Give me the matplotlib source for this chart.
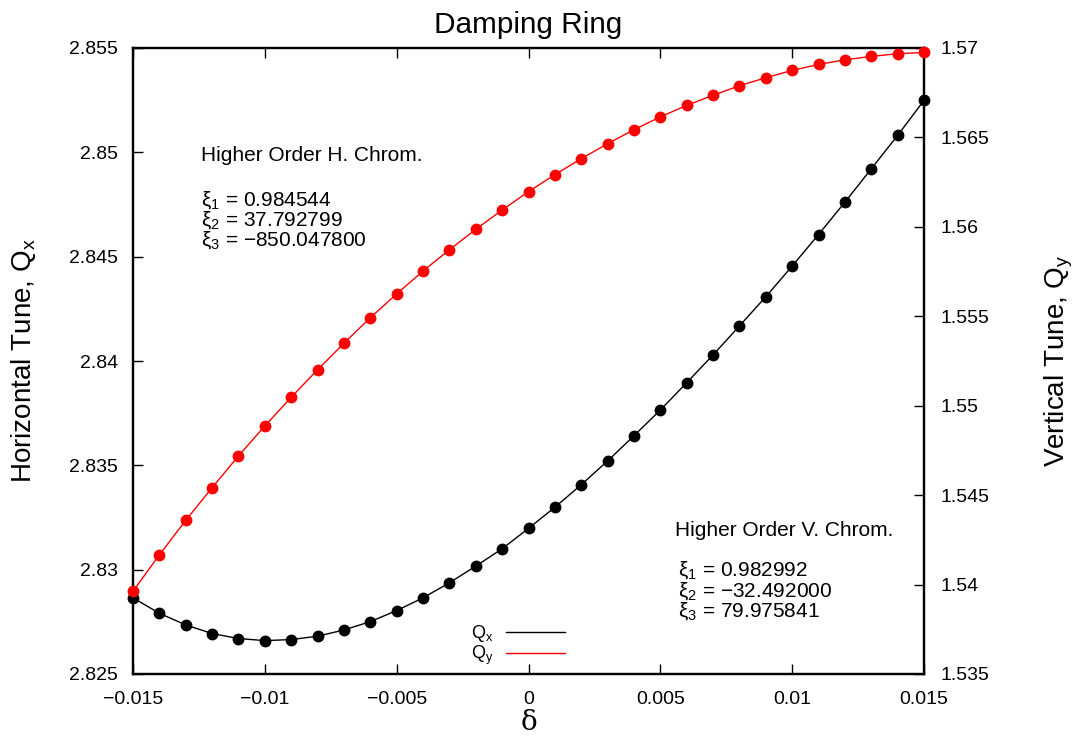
import matplotlib
matplotlib.use("Agg")
import matplotlib.pyplot as plt
import numpy as np

plt.rcParams['font.family'] = ['Liberation Sans', 'DejaVu Sans']
plt.rcParams['mathtext.default'] = 'regular'

delta = [-0.015, -0.014, -0.013, -0.012, -0.011, -0.010, -0.009, -0.008,
         -0.007, -0.006, -0.005, -0.004, -0.003, -0.002, -0.001, 0.0,
         0.001, 0.002, 0.003, 0.004, 0.005, 0.006, 0.007, 0.008,
         0.009, 0.010, 0.011, 0.012, 0.013, 0.014, 0.015]

qx = [2.82865, 2.82791, 2.82735, 2.82694, 2.82670, 2.82660, 2.82665, 2.82681,
      2.82711, 2.82751, 2.82804, 2.82865, 2.82937, 2.83017, 2.83100, 2.83198,
      2.83299, 2.83407, 2.83521, 2.83642, 2.83765, 2.83896, 2.84029, 2.84168,
      2.84308, 2.84455, 2.84606, 2.84761, 2.84921, 2.85081, 2.85249]

qy = [1.53963, 1.54166, 1.54359, 1.54542, 1.54719, 1.54887, 1.55047, 1.55201,
      1.55349, 1.55492, 1.55625, 1.55753, 1.55872, 1.55986, 1.56094, 1.56197,
      1.56292, 1.56381, 1.56465, 1.56543, 1.56615, 1.56679, 1.56736, 1.56789,
      1.56834, 1.56875, 1.56908, 1.56934, 1.56953, 1.56968, 1.56975]

xticks = [-0.015, -0.01, -0.005, 0, 0.005, 0.01, 0.015]
xticklabels = ['\u22120.015', '\u22120.01', '\u22120.005', '0', '0.005', '0.01', '0.015']
y1ticks = [2.825, 2.83, 2.835, 2.84, 2.845, 2.85, 2.855]
y1ticklabels = ['2.825', '2.83', '2.835', '2.84', '2.845', '2.85', '2.855']
y2ticks = [1.535, 1.54, 1.545, 1.55, 1.555, 1.56, 1.565, 1.57]
y2ticklabels = ['1.535', '1.54', '1.545', '1.55', '1.555', '1.56', '1.565', '1.57']

h_title = 'Higher Order H. Chrom.'
h_xi = ['\u03be$_1$ = 0.984544', '\u03be$_2$ = 37.792799', '\u03be$_3$ = \u2212850.047800']
v_title = 'Higher Order V. Chrom.'
v_xi = ['\u03be$_1$ = 0.982992', '\u03be$_2$ = \u221232.492000', '\u03be$_3$ = 79.975841']

fig = plt.figure(figsize=(10.78, 7.40), dpi=100)
ax = fig.add_axes([133/1078, 1-674/740, 791/1078, 626/740])
ax2 = ax.twinx()

ax.plot(delta, qx, color='black', lw=1.0, label='Q$_x$')
ax.plot(delta, qx, 'o', color='black', ms=7.5, clip_on=False, zorder=5)
ax2.plot(delta, qy, color='red', lw=1.0, label='Q$_y$')
ax2.plot(delta, qy, 'o', color='red', ms=7.5, clip_on=False, zorder=5)

ax.set_xlim(-0.015, 0.015)
ax.set_ylim(2.825, 2.855)
ax2.set_ylim(1.535, 1.57)

ax.set_xticks(xticks)
ax.set_xticklabels(xticklabels)
ax.set_yticks(y1ticks)
ax.set_yticklabels(y1ticklabels)
ax2.set_yticks(y2ticks)
ax2.set_yticklabels(y2ticklabels)

ax.tick_params(axis='x', direction='in', length=7, width=1, top=True, labelsize=14, pad=12)
ax.tick_params(axis='y', direction='in', length=7, width=1, right=False, labelsize=14, pad=11)
ax2.tick_params(axis='y', direction='in', length=7, width=1, labelsize=14, pad=12)
for a in (ax, ax2):
    for s in a.spines.values():
        s.set_linewidth(1.6)

ax.set_title('Damping Ring', fontsize=21.4, pad=11)
ax.set_xlabel('\u03b4', fontsize=20, family=['DejaVu Serif'], labelpad=1)
ax.set_ylabel('Horizontal Tune, Q$_x$', fontsize=20, labelpad=22)
ax2.set_ylabel('Vertical Tune, Q$_y$', fontsize=20, labelpad=38)

fs = 15
ax.text(0.0856, 0.820, h_title, transform=ax.transAxes, fontsize=fs, va='baseline')
for yy, s in zip([0.7485, 0.7165, 0.6846], h_xi):
    ax.text(0.0856, yy, s, transform=ax.transAxes, fontsize=fs, va='baseline')

ax.text(0.685, 0.2204, v_title, transform=ax.transAxes, fontsize=fs, va='baseline')
for yy, s in zip([0.1565, 0.1230, 0.0911], v_xi):
    ax.text(0.6885, yy, s, transform=ax.transAxes, fontsize=fs, va='baseline')

h1, l1 = ax.get_legend_handles_labels()
h2, l2 = ax2.get_legend_handles_labels()
leg = ax2.legend(h1 + h2, l1 + l2, loc='lower right', bbox_to_anchor=(0.558, -0.004),
                 frameon=False, markerfirst=False, fontsize=13, handlelength=3.3,
                 labelspacing=0.0, borderpad=0, handletextpad=0.7)

fig.savefig('out.png', dpi=100)
